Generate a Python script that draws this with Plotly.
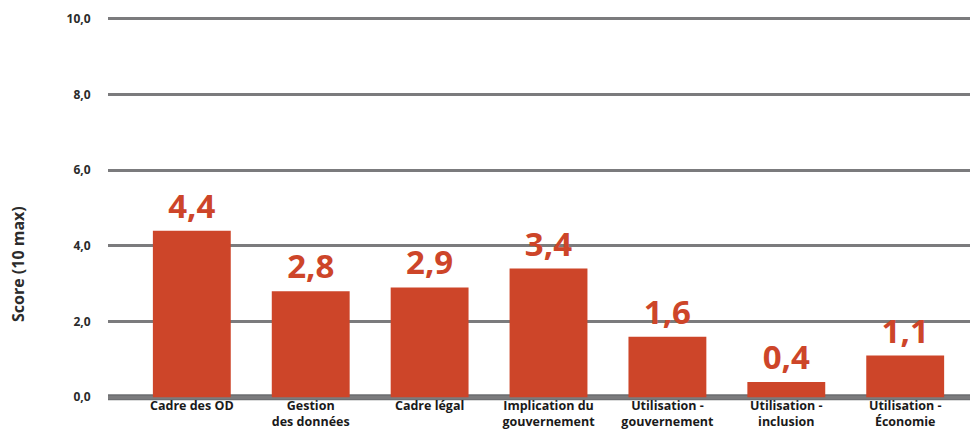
import plotly.graph_objects as go

categories = [
    "Cadre des OD",
    "Gestion<br>des données",
    "Cadre légal",
    "Implication du<br>gouvernement",
    "Utilisation -<br>gouvernement",
    "Utilisation -<br>inclusion",
    "Utilisation -<br>Économie",
]
scores = [4.4, 2.8, 2.9, 3.4, 1.6, 0.4, 1.1]
score_labels = ["4,4", "2,8", "2,9", "3,4", "1,6", "0,4", "1,1"]
y_ticks = [0, 2, 4, 6, 8, 10]
y_tick_labels = ["0,0", "2,0", "4,0", "6,0", "8,0", "10,0"]

BAR = "#CD4529"
GRID = "#7b7b7d"
TEXT = "#2b2b2b"
FONT = "Open Sans"

fig = go.Figure()
fig.add_trace(go.Bar(
    x=list(range(len(categories))),
    y=scores,
    width=0.655,
    marker=dict(color=BAR, line=dict(width=0)),
    text=score_labels,
    textposition="outside",
    textfont=dict(family=FONT, size=33, color=BAR, weight="bold"),
    cliponaxis=False,
))

# thick baseline under the bars
fig.add_shape(type="line", xref="paper", yref="y", x0=0, x1=1, y0=0, y1=0,
              line=dict(color="#6e6f72", width=6), layer="below")

fig.add_annotation(
    text="Score (10 max)", textangle=-90, showarrow=False,
    xref="paper", yref="paper", x=0, y=0.355, xanchor="center", yanchor="middle",
    xshift=-90, font=dict(family=FONT, size=16, color=TEXT, weight="bold"),
)

fig.update_layout(
    width=970, height=433,
    margin=dict(l=108, r=0, t=15, b=32, autoexpand=False),
    paper_bgcolor="white", plot_bgcolor="white",
    showlegend=False,
    xaxis=dict(
        range=[-0.705, 6.545],
        tickvals=list(range(len(categories))),
        ticktext=categories,
        tickfont=dict(family=FONT, size=12.5, color="#1a1a1a", weight="bold"),
        ticks="", ticklabelstandoff=-5,
        showgrid=False, zeroline=False, showline=False,
        automargin=False,
    ),
    yaxis=dict(
        range=[-0.1, 10.1],
        tickvals=y_ticks,
        ticktext=y_tick_labels,
        tickfont=dict(family=FONT, size=12, color=TEXT, weight="bold"),
        ticks="outside", ticklen=14, tickcolor="white",
        showgrid=True, gridcolor=GRID, gridwidth=2.5,
        zeroline=False, showline=False,
        automargin=False,
    ),
)

fig.write_html("out.html")
